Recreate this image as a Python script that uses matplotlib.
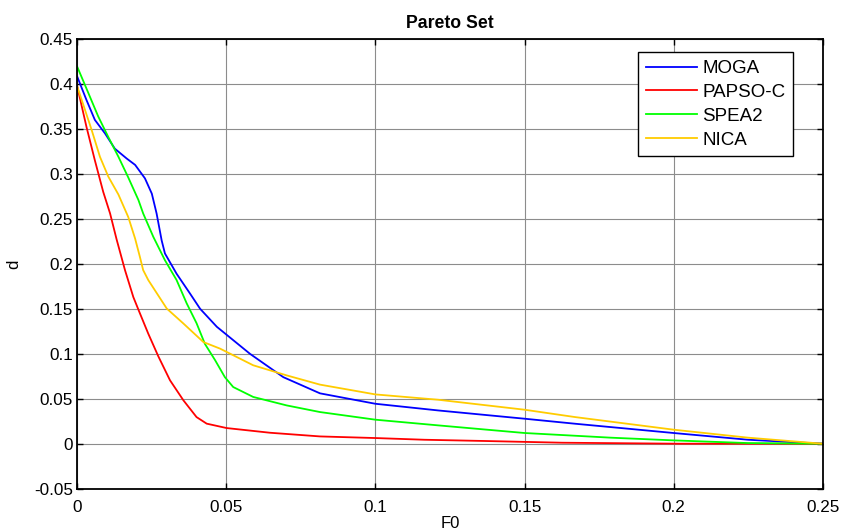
import matplotlib
matplotlib.use("Agg")
import matplotlib.pyplot as plt

plt.rcParams["font.family"] = ["Liberation Sans", "DejaVu Sans"]

# ---- data ----
moga_x = [0, 0.0031, 0.0059, 0.0093, 0.0126, 0.0166, 0.0194, 0.0227, 0.025, 0.0266,
          0.0283, 0.0294, 0.0333, 0.0378, 0.0412, 0.0468, 0.0579, 0.0691, 0.0814, 0.1,
          0.121, 0.15, 0.167, 0.2, 0.225, 0.25]
moga_y = [0.408, 0.382, 0.360, 0.345, 0.328, 0.317, 0.310, 0.295, 0.278, 0.256,
          0.226, 0.2115, 0.189, 0.167, 0.150, 0.130, 0.100, 0.074, 0.056, 0.0444,
          0.037, 0.0278, 0.0222, 0.0119, 0.0044, 0.0]

papso_x = [0, 0.0031, 0.0059, 0.0087, 0.011, 0.0132, 0.016, 0.0188, 0.021, 0.0238,
           0.0272, 0.0311, 0.0356, 0.040, 0.0434, 0.0501, 0.0646, 0.0814, 0.1, 0.1164,
           0.137, 0.1626, 0.2018, 0.25]
papso_y = [0.397, 0.352, 0.315, 0.280, 0.256, 0.227, 0.193, 0.163, 0.145, 0.1224,
           0.097, 0.0705, 0.0482, 0.0296, 0.0223, 0.0174, 0.0122, 0.0081, 0.0063, 0.0044,
           0.003, 0.0011, 0.0, 0.0]

spea_x = [0, 0.0037, 0.007, 0.0104, 0.0138, 0.0171, 0.0205, 0.0221, 0.0255, 0.0294,
          0.0333, 0.0367, 0.040, 0.0428, 0.0462, 0.0495, 0.0523, 0.059, 0.0702, 0.0814,
          0.1, 0.121, 0.15, 0.179, 0.2, 0.225, 0.25]
spea_y = [0.419, 0.390, 0.364, 0.341, 0.319, 0.296, 0.271, 0.256, 0.230, 0.204,
          0.182, 0.156, 0.134, 0.111, 0.093, 0.074, 0.063, 0.052, 0.0426, 0.0352,
          0.0267, 0.0204, 0.0119, 0.0067, 0.0037, 0.0007, 0.0]

nica_x = [0, 0.0026, 0.0048, 0.0076, 0.0104, 0.0138, 0.0171, 0.0194, 0.021, 0.0221,
          0.0238, 0.030, 0.0356, 0.0423, 0.0479, 0.059, 0.0702, 0.0814, 0.1, 0.121,
          0.15, 0.167, 0.2, 0.225, 0.25]
nica_y = [0.397, 0.371, 0.349, 0.319, 0.297, 0.277, 0.252, 0.228, 0.2077, 0.193,
          0.182, 0.1503, 0.1336, 0.113, 0.1057, 0.0872, 0.076, 0.0657, 0.0548, 0.0489,
          0.0378, 0.0296, 0.0156, 0.0067, 0.0]

x_ticks = [0, 0.05, 0.1, 0.15, 0.2, 0.25]
x_labels = ["0", "0.05", "0.1", "0.15", "0.2", "0.25"]
y_ticks = [-0.05, 0, 0.05, 0.1, 0.15, 0.2, 0.25, 0.3, 0.35, 0.4, 0.45]
y_labels = ["-0.05", "0", "0.05", "0.1", "0.15", "0.2", "0.25", "0.3", "0.35", "0.4", "0.45"]

# ---- figure ----
fig = plt.figure(figsize=(8.54, 5.31), dpi=100)
ax = fig.add_axes([0.0905, 0.0797, 0.8728, 0.8469])

lw = 1.3
ax.plot(moga_x, moga_y, color="#0000ff", lw=lw, label="MOGA")
ax.plot(papso_x, papso_y, color="#ff0000", lw=lw, label="PAPSO-C")
ax.plot(spea_x, spea_y, color="#00ff00", lw=lw, label="SPEA2")
ax.plot(nica_x, nica_y, color="#ffcc00", lw=lw, label="NICA")

ax.set_xlim(0, 0.25)
ax.set_ylim(-0.05, 0.45)
ax.set_xticks(x_ticks)
ax.set_xticklabels(x_labels)
ax.set_yticks(y_ticks)
ax.set_yticklabels(y_labels)
ax.tick_params(direction="in", top=True, right=True, labelsize=12.3, length=4, width=1)
ax.tick_params(axis="x", pad=8)
ax.tick_params(axis="y", pad=3)
ax.grid(True, color="0.55", lw=0.8)
ax.set_axisbelow(True)
for s in ax.spines.values():
    s.set_linewidth(1.3)

ax.set_title("Pareto Set", fontsize=12.7, fontweight="bold", pad=8)
ax.set_xlabel("F0", fontsize=12, labelpad=1)
ax.set_ylabel("d", fontsize=12, labelpad=9)

leg = ax.legend(loc="upper right", bbox_to_anchor=(0.960, 0.970), borderaxespad=0,
                fancybox=False, edgecolor="k", framealpha=1, fontsize=13.5,
                handlelength=2.7, labelspacing=0.36, borderpad=0.4, handletextpad=0.3)
leg.get_frame().set_linewidth(1.0)

fig.savefig("out.png", dpi=100)
